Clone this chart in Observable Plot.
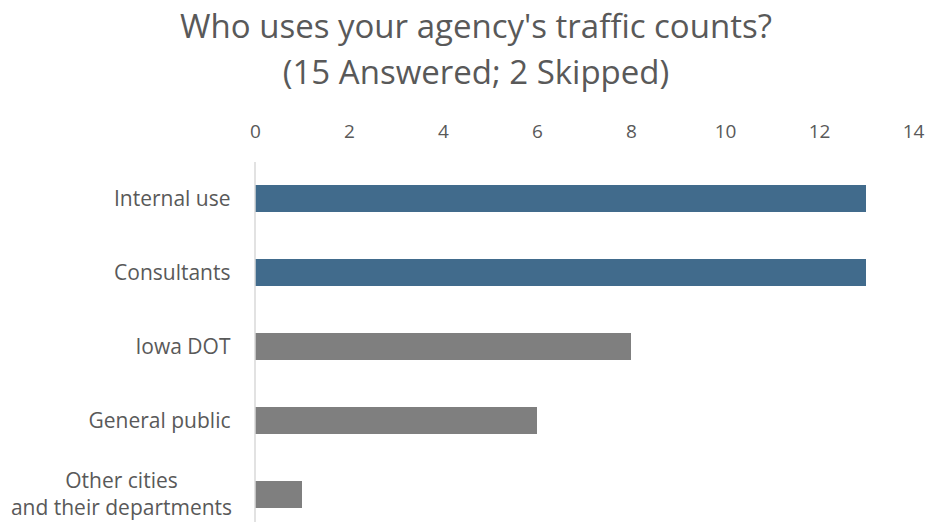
<!DOCTYPE html>
<html>
<head>
<meta charset="utf-8">
<script src="https://cdn.jsdelivr.net/npm/d3@7"></script>
<script src="https://cdn.jsdelivr.net/npm/@observablehq/plot@0.6"></script>
<style>
  html, body { margin: 0; padding: 0; background: #fff; }
  #wrap { width: 928px; height: 522px; overflow: hidden; font-family: "Open Sans", Lato, sans-serif; }
  #title { box-sizing: border-box; width: 928px; height: 100px; padding-top: 3px; padding-left: 24px;
           text-align: center; color: #595959; font-size: 33px; line-height: 46px; }
  svg { display: block; }
</style>
</head>
<body>
<div id="wrap">
  <div id="title">Who uses your agency's traffic counts?<br>(15 Answered; 2 Skipped)</div>
  <div id="chart"></div>
</div>
<script>
const categories = ["Internal use", "Consultants", "Iowa DOT", "General public", "Other cities\nand their departments"];
const values = [13, 13, 8, 6, 1];
const highlighted = ["Internal use", "Consultants"];
const xTicks = [0, 2, 4, 6, 8, 10, 12, 14];

const data = categories.map((c, i) => ({category: c, value: values[i], hi: highlighted.includes(c)}));

const chart = Plot.plot({
  width: 928,
  height: 422,
  marginLeft: 255,
  marginRight: 15,
  marginTop: 62,
  marginBottom: 0,
  style: {fontFamily: "'Open Sans', Lato, sans-serif", color: "#595959", background: "#fff"},
  x: {domain: [0, 14], axis: null},
  y: {domain: categories, range: [62, 432], paddingInner: 0.635, paddingOuter: 0.3175, axis: null},
  marks: [
    Plot.axisX({anchor: "top", ticks: xTicks, tickSize: 0, tickPadding: 25, fontSize: 19, fill: "#595959", tickFormat: d => d, label: null}),
    Plot.barX(data, {x: "value", y: "category", fill: d => d.hi ? "#416b8c" : "#7f7f7f"}),
    Plot.ruleX([0], {stroke: "#d9d9d9", strokeWidth: 1.5, dx: -0.5}),
    Plot.text(data.filter(d => !d.category.includes("\n")), {x: 0, y: "category", text: "category", textAnchor: "end", dx: -25, fontSize: 21, fill: "#595959"}),
    Plot.text(data.filter(d => d.category.includes("\n")), {x: 0, y: "category", text: "category", textAnchor: "middle", dx: -134, dy: -2.5, lineHeight: 1.3, fontSize: 21, fill: "#595959"})
  ]
});
document.getElementById("chart").appendChild(chart);
</script>
</body>
</html>
